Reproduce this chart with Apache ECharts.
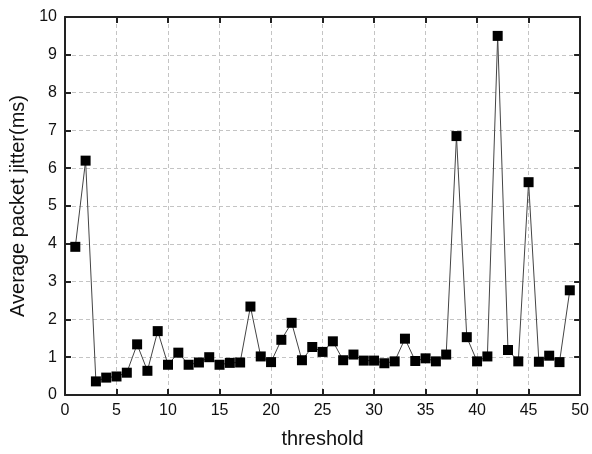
<!DOCTYPE html>
<html>
<head>
<meta charset="utf-8">
<script src="https://cdn.jsdelivr.net/npm/echarts@6/dist/echarts.min.js"></script>
<style>
  html, body { margin: 0; padding: 0; background: #fff; }
  #main { width: 592px; height: 454px; }
</style>
</head>
<body>
<div id="main"></div>
<script>
// data
var thresholds = [];
for (var t = 1; t <= 49; t++) thresholds.push(t);
var jitter = [
  3.92, 6.2, 0.36, 0.46, 0.49, 0.59, 1.34, 0.64, 1.69, 0.8,
  1.12, 0.8, 0.86, 1.0, 0.8, 0.85, 0.86, 2.34, 1.02, 0.87,
  1.46, 1.91, 0.92, 1.27, 1.14, 1.42, 0.92, 1.07, 0.91, 0.91,
  0.84, 0.89, 1.49, 0.9, 0.97, 0.89, 1.07, 6.85, 1.53, 0.89,
  1.02, 9.5, 1.19, 0.89, 5.63, 0.88, 1.04, 0.87, 2.77
];
var xTicks = [0, 5, 10, 15, 20, 25, 30, 35, 40, 45, 50];
var yTicks = [0, 1, 2, 3, 4, 5, 6, 7, 8, 9, 10];

var points = thresholds.map(function (x, i) { return [x, jitter[i]]; });

var font = 'Liberation Sans, Arial, sans-serif';
var axisLine = { show: true, onZero: false, lineStyle: { color: '#222', width: 2 } };
var tick = { show: true, inside: true, length: 6, lineStyle: { color: '#222', width: 2 } };
var grid = { show: true, lineStyle: { color: '#c4c4c4', type: [4, 3], width: 1 } };

var myChart = echarts.init(document.getElementById('main'));
myChart.setOption({
  animation: false,
  grid: { left: 65, right: 10, top: 17, bottom: 55, containLabel: false },
  xAxis: [{
    type: 'value', min: xTicks[0], max: xTicks[xTicks.length - 1], interval: 5,
    position: 'bottom',
    name: 'threshold', nameLocation: 'middle', nameGap: 34,
    nameTextStyle: { fontFamily: font, fontSize: 20, color: '#111' },
    axisLine: axisLine, axisTick: tick, splitLine: grid,
    axisLabel: { fontFamily: font, fontSize: 16, color: '#111', margin: 8 }
  }, {
    type: 'value', min: xTicks[0], max: xTicks[xTicks.length - 1], interval: 5,
    position: 'top',
    axisLine: axisLine, axisTick: tick, splitLine: { show: false },
    axisLabel: { show: false }
  }],
  yAxis: [{
    type: 'value', min: yTicks[0], max: yTicks[yTicks.length - 1], interval: 1,
    position: 'left',
    name: 'Average packet jitter(ms)', nameLocation: 'middle', nameGap: 31,
    nameTextStyle: { fontFamily: font, fontSize: 20, color: '#111' },
    axisLine: axisLine, axisTick: tick, splitLine: grid,
    axisLabel: { fontFamily: font, fontSize: 16, color: '#111', margin: 8 }
  }, {
    type: 'value', min: yTicks[0], max: yTicks[yTicks.length - 1], interval: 1,
    position: 'right',
    axisLine: axisLine, axisTick: tick, splitLine: { show: false },
    axisLabel: { show: false }
  }],
  series: [{
    type: 'line',
    data: points,
    symbol: 'rect',
    symbolSize: 10,
    showAllSymbol: true,
    lineStyle: { color: '#444', width: 1 },
    itemStyle: { color: '#000' }
  }]
});
</script>
</body>
</html>
